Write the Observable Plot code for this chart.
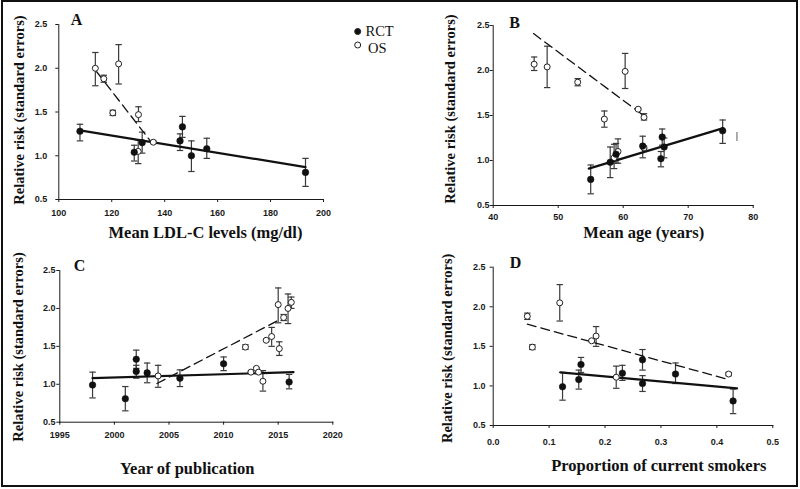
<!DOCTYPE html>
<html><head><meta charset="utf-8">
<script src="https://cdn.jsdelivr.net/npm/d3@7"></script>
<script src="https://cdn.jsdelivr.net/npm/@observablehq/plot@0.6"></script>
<style>
html,body{margin:0;padding:0;background:#fff;}
#wrap{position:relative;width:800px;height:489px;overflow:hidden;background:#fff;}
#border{position:absolute;left:1px;top:0px;width:793px;height:483px;border:2px solid #111;pointer-events:none;z-index:5;}
.panel{position:absolute;}
.panel svg{overflow:visible;}
#legend{position:absolute;left:0;top:0;z-index:4;}
</style></head><body>
<div id="wrap"><div id="border"></div></div>
<script>
// ---------- shared ----------
const yTicks = [0.5, 1.0, 1.5, 2.0, 2.5];
const yLabel = "Relative risk (standard errors)";
const legendLabels = ["RCT", "OS"];

// ---------- Panel A: Mean LDL-C ----------
const aXTicks = [100, 120, 140, 160, 180, 200];
const aRctX  = [108, 128.5, 131.5, 145.8, 146.7, 150.1, 155.9, 193.2];
const aRctY  = [1.28, 1.04, 1.15, 1.17, 1.33, 1.00, 1.08, 0.81];
const aRctLo = [1.17, 0.94, 1.03, 1.06, 1.21, 0.82, 0.97, 0.65];
const aRctHi = [1.36, 1.12, 1.27, 1.25, 1.45, 1.17, 1.20, 0.97];
const aOsX  = [113.8, 117, 120.4, 122.6, 130.1, 130.0, 135.7];
const aOsY  = [2.00, 1.88, 1.49, 2.05, 1.47, 1.05, 1.155];
const aOsLo = [1.80, 1.84, 1.46, 1.82, 1.39, 0.91, 1.14];
const aOsHi = [2.18, 1.92, 1.52, 2.27, 1.56, 1.18, 1.17];
const aRctLineX = [108, 193.2], aRctLineY = [1.29, 0.87];
const aOsLineX  = [114.3, 135.6], aOsLineY = [1.96, 1.13];

// ---------- Panel B: Mean age ----------
const bXTicks = [40, 50, 60, 70, 80];
const bRctX  = [55.0, 58.0, 58.9, 63.0, 65.8, 66.0, 66.3, 75.3];
const bRctY  = [0.79, 0.98, 1.07, 1.16, 1.02, 1.26, 1.15, 1.33];
const bRctLo = [0.63, 0.81, 0.97, 1.03, 0.93, 1.17, 1.03, 1.19];
const bRctHi = [0.95, 1.15, 1.19, 1.27, 1.10, 1.35, 1.25, 1.45];
const bOsX  = [46.3, 48.3, 53.0, 57.1, 60.3, 62.3, 63.2, 58.6, 59.2, 63.2];
const bOsY  = [2.07, 2.04, 1.87, 1.46, 1.99, 1.57, 1.48, 1.03, 1.10, 1.14];
const bOsLo = [2.00, 1.81, 1.83, 1.37, 1.80, 1.56, 1.45, 0.91, 0.97, 1.13];
const bOsHi = [2.15, 2.27, 1.91, 1.55, 2.19, 1.58, 1.52, 1.18, 1.24, 1.16];
const bRctLineX = [54.7, 75.4], bRctLineY = [0.91, 1.36];
const bOsLineX  = [46.2, 63.5], bOsLineY = [2.41, 1.48];
const bStrayX = [77.5], bStrayLo = [1.21], bStrayHi = [1.31];

// ---------- Panel C: Year of publication ----------
const cXTicks = [1995, 2000, 2005, 2010, 2015, 2020];
const cRctX  = [1998, 2001, 2002, 2002, 2003, 2006, 2010, 2016];
const cRctY  = [0.99, 0.81, 1.33, 1.17, 1.15, 1.08, 1.27, 1.03];
const cRctLo = [0.82, 0.65, 1.21, 1.08, 1.02, 0.97, 1.18, 0.94];
const cRctHi = [1.16, 0.97, 1.45, 1.25, 1.28, 1.19, 1.36, 1.13];
const cOsX  = [2004, 2012, 2012.5, 2013, 2013.2, 2013.6, 2013.9, 2014.4, 2015.1, 2015, 2015.5, 2015.9, 2016.2];
const cOsY  = [1.11, 1.49, 1.16, 1.21, 1.16, 1.04, 1.58, 1.63, 1.47, 2.05, 1.88, 2.00, 2.08];
const cOsLo = [0.96, 1.46, 1.15, 1.20, 1.15, 0.91, 1.57, 1.50, 1.38, 1.81, 1.84, 1.80, 2.00];
const cOsHi = [1.25, 1.52, 1.17, 1.22, 1.17, 1.18, 1.59, 1.75, 1.56, 2.27, 1.92, 2.19, 2.15];
const cRctLineX = [1998, 2016.4], cRctLineY = [1.08, 1.16];
const cOsLineX  = [2003.9, 2015.1], cOsLineY = [1.01, 1.85];

// ---------- Panel D: Proportion of current smokers ----------
const dXTicks = [0.0, 0.1, 0.2, 0.3, 0.4, 0.5];
const dRctX  = [0.124, 0.153, 0.157, 0.231, 0.267, 0.267, 0.326, 0.429];
const dRctY  = [0.99, 1.08, 1.27, 1.16, 1.33, 1.03, 1.15, 0.81];
const dRctLo = [0.82, 0.96, 1.17, 1.07, 1.20, 0.93, 1.03, 0.65];
const dRctHi = [1.17, 1.20, 1.36, 1.26, 1.46, 1.13, 1.29, 0.96];
const dOsX  = [0.061, 0.070, 0.119, 0.176, 0.184, 0.220, 0.421];
const dOsY  = [1.88, 1.49, 2.05, 1.57, 1.63, 1.11, 1.15];
const dOsLo = [1.84, 1.46, 1.82, 1.56, 1.50, 0.97, 1.13];
const dOsHi = [1.92, 1.52, 2.28, 1.58, 1.75, 1.25, 1.17];
const dRctLineX = [0.120, 0.436], dRctLineY = [1.17, 0.97];
const dOsLineX  = [0.061, 0.421], dOsLineY = [1.78, 1.08];

// ---------- helpers ----------
const rows = (x, y, lo, hi) => x.map((v, i) => ({x: v, y: y[i], lo: lo ? lo[i] : null, hi: hi ? hi[i] : null}));
const cap = {draw(ctx) { ctx.moveTo(-3.2, 0); ctx.lineTo(3.2, 0); }};
const errColor = "#3a3a3a";
const serif = "'Liberation Serif', 'Times New Roman', serif";

function panel(cfg) {
  const rct = rows(cfg.rctX, cfg.rctY, cfg.rctLo, cfg.rctHi);
  const os = rows(cfg.osX, cfg.osY, cfg.osLo, cfg.osHi);
  const all = rct.concat(os);
  const marks = [
    Plot.ruleX(all, {x: "x", y1: "lo", y2: "hi", stroke: errColor, strokeWidth: 1.2}),
    Plot.dot(all, {x: "x", y: "lo", symbol: cap, stroke: errColor, strokeWidth: 1.2, fill: "none"}),
    Plot.dot(all, {x: "x", y: "hi", symbol: cap, stroke: errColor, strokeWidth: 1.2, fill: "none"}),
    Plot.line(rows(cfg.osLineX, cfg.osLineY), {x: "x", y: "y", stroke: "#111", strokeWidth: 1.3, strokeDasharray: "9,5"}),
    Plot.line(rows(cfg.rctLineX, cfg.rctLineY), {x: "x", y: "y", stroke: "#111", strokeWidth: 2.2}),
    Plot.dot(os, {x: "x", y: "y", r: 3, fill: "white", stroke: "#222", strokeWidth: 1}),
    Plot.dot(rct, {x: "x", y: "y", r: 3.3, fill: "#111", stroke: "#111", strokeWidth: 0.5}),
    Plot.text([cfg.xLabel], {text: d => d, frameAnchor: "bottom", dx: cfg.xlab[0], dy: cfg.xlab[1], lineAnchor: "middle", textAnchor: "middle",
      fontFamily: serif, fontSize: 16.5, fontWeight: "bold", fill: "#111"}),
    Plot.text([yLabel], {text: d => d, frameAnchor: "left", rotate: -90, dx: cfg.ylab[0], dy: cfg.ylab[1], lineAnchor: "middle", textAnchor: "middle",
      fontFamily: serif, fontSize: 14.5, fontWeight: "bold", fill: "#111"}),
    Plot.text([cfg.letter], {text: d => d, frameAnchor: "top-left", dx: cfg.let[0], dy: cfg.let[1], lineAnchor: "middle", textAnchor: "middle",
      fontFamily: serif, fontSize: 16, fontWeight: "bold", fill: "#111"})
  ];
  if (cfg.extra) marks.push(...cfg.extra);
  const chart = Plot.plot({
    width: cfg.width, height: cfg.height,
    marginTop: cfg.m[0], marginRight: cfg.m[1], marginBottom: cfg.m[2], marginLeft: cfg.m[3],
    x: {domain: cfg.xDomain, ticks: cfg.xTicks, tickFormat: cfg.xFmt, line: true, label: null, tickSize: 3, tickPadding: cfg.xPad},
    y: {domain: [0.5, 2.5], ticks: yTicks, tickFormat: d3.format(".1f"), line: true, label: null, tickSize: 3, tickPadding: cfg.yPad},
    style: {fontFamily: "'Liberation Sans', Arial, sans-serif", fontSize: "9px", fontWeight: "bold", color: "#1a1a1a", background: "transparent", overflow: "visible"},
    marks
  });
  const div = document.createElement("div");
  div.className = "panel";
  div.style.left = cfg.left + "px";
  div.style.top = cfg.top + "px";
  div.appendChild(chart);
  document.getElementById("wrap").appendChild(div);
}

panel({letter: "A", left: 0, top: 0, width: 400, height: 245, m: [24, 77, 46, 58.3],
  xDomain: [100, 200], xTicks: aXTicks, xFmt: d3.format("d"), xPad: 7, yPad: 8.6,
  rctX: aRctX, rctY: aRctY, rctLo: aRctLo, rctHi: aRctHi, osX: aOsX, osY: aOsY, osLo: aOsLo, osHi: aOsHi,
  rctLineX: aRctLineX, rctLineY: aRctLineY, osLineX: aOsLineX, osLineY: aOsLineY,
  xLabel: "Mean LDL-C levels (mg/dl)", xlab: [14.3, 33.7], ylab: [-39.3, -2], let: [17.7, -4.5]});

panel({letter: "B", left: 400, top: 0, width: 400, height: 245, m: [25, 47.3, 40, 92.7],
  xDomain: [40, 80], xTicks: bXTicks, xFmt: d3.format("d"), xPad: 5.4, yPad: 0.6,
  rctX: bRctX, rctY: bRctY, rctLo: bRctLo, rctHi: bRctHi, osX: bOsX, osY: bOsY, osLo: bOsLo, osHi: bOsHi,
  rctLineX: bRctLineX, rctLineY: bRctLineY, osLineX: bOsLineX, osLineY: bOsLineY,
  xLabel: "Mean age (years)", xlab: [20.6, 27.7], ylab: [-42.7, -6.5], let: [21.3, -3],
  extra: [Plot.ruleX(rows(bStrayX, bStrayX, bStrayLo, bStrayHi), {x: "x", y1: "lo", y2: "hi", stroke: "#777", strokeWidth: 1.2})]});

panel({letter: "C", left: 0, top: 245, width: 400, height: 244, m: [25, 67.7, 67.3, 59.3],
  xDomain: [1995, 2020], xTicks: cXTicks, xFmt: d3.format("d"), xPad: 6, yPad: 1.3,
  rctX: cRctX, rctY: cRctY, rctLo: cRctLo, rctHi: cRctHi, osX: cOsX, osY: cOsY, osLo: cOsLo, osHi: cOsHi,
  rctLineX: cRctLineX, rctLineY: cRctLineY, osLineX: cOsLineX, osLineY: cOsLineY,
  xLabel: "Year of publication", xlab: [-9.1, 46.6], ylab: [-41.3, 0.6], let: [19.7, -5]});

panel({letter: "D", left: 400, top: 245, width: 400, height: 244, m: [21.7, 27.7, 64, 92.7],
  xDomain: [0, 0.5], xTicks: dXTicks, xFmt: d3.format(".1f"), xPad: 10.4, yPad: 4.7,
  rctX: dRctX, rctY: dRctY, rctLo: dRctLo, rctHi: dRctHi, osX: dOsX, osY: dOsY, osLo: dOsLo, osHi: dOsHi,
  rctLineX: dRctLineX, rctLineY: dRctLineY, osLineX: dOsLineX, osLineY: dOsLineY,
  xLabel: "Proportion of current smokers", xlab: [25.8, 40], ylab: [-46, 2], let: [22.3, -4.4]});

// ---------- legend (panel A) ----------
const leg = d3.select("#wrap").append("svg").attr("id", "legend").attr("width", 800).attr("height", 70);
const legItems = [
  {label: legendLabels[0], cx: 357.7, cy: 31.5, tx: 365.5, ty: 36, fill: "#111"},
  {label: legendLabels[1], cx: 357.7, cy: 45, tx: 368, ty: 52.5, fill: "white"}
];
legItems.forEach(d => {
  leg.append("circle").attr("cx", d.cx).attr("cy", d.cy).attr("r", 3).attr("fill", d.fill).attr("stroke", "#222").attr("stroke-width", 1);
  leg.append("text").attr("x", d.tx).attr("y", d.ty).attr("font-family", serif).attr("font-size", 14.5).attr("fill", "#111").text(d.label);
});
</script>
</body></html>
